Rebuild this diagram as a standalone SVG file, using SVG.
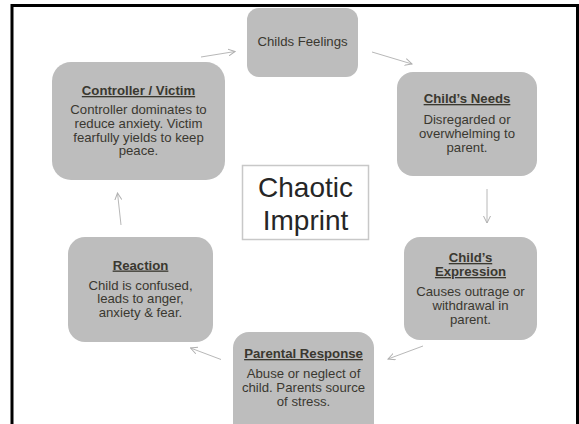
<svg xmlns="http://www.w3.org/2000/svg" width="579" height="424" viewBox="0 0 579 424">
<defs>
<style>
.node rect{fill:#bdbdbd;}
.t{font-family:"Liberation Sans",Arial,sans-serif;font-size:13.2px;fill:#3a3830;text-anchor:middle;}
.h{font-weight:bold;text-decoration:underline;}
.conn line{stroke:#b8b8b8;stroke-width:1;fill:none;marker-end:url(#ah);}
</style>
<marker id="ah" viewBox="0 0 8 8" refX="7" refY="4" markerWidth="8" markerHeight="8" markerUnits="userSpaceOnUse" orient="auto">
<path d="M0,0.5 L7,4 L0,7.5" fill="none" stroke="#b0b0b0" stroke-width="1"/>
</marker>
</defs>
<rect width="579" height="424" fill="#ffffff"/>
<path d="M12,424 V5.5 H577.5 V424" fill="none" stroke="#000" stroke-width="3"/>

<g class="conn" id="connectors">
<line x1="201" y1="57" x2="235" y2="51.5"/>
<line x1="372" y1="52" x2="412" y2="64"/>
<line x1="487" y1="189" x2="487" y2="223"/>
<line x1="423" y1="346" x2="388" y2="359"/>
<line x1="221" y1="359.5" x2="190.5" y2="348"/>
<line x1="121" y1="225" x2="117.5" y2="193"/>
</g>

<g class="node" id="childs-feelings">
<rect x="247" y="8" width="111" height="69" rx="12"/>
<text class="t" x="302.5" y="46">Childs Feelings</text>
</g>

<g class="node" id="childs-needs">
<rect x="397" y="72" width="140" height="104" rx="16"/>
<text class="t h" x="467" y="103">Child’s Needs</text>
<text class="t" x="467" y="124">Disregarded or</text>
<text class="t" x="467" y="137.8">overwhelming to</text>
<text class="t" x="467" y="151.6">parent.</text>
</g>

<g class="node" id="childs-expression">
<rect x="404" y="237" width="133" height="103" rx="16"/>
<text class="t h" x="470.5" y="262">Child’s</text>
<text class="t h" x="470.5" y="276">Expression</text>
<text class="t" x="470.5" y="296">Causes outrage or</text>
<text class="t" x="470.5" y="309.8">withdrawal in</text>
<text class="t" x="470.5" y="323.6">parent.</text>
</g>

<g class="node" id="parental-response">
<rect x="233" y="332" width="141" height="110" rx="16"/>
<text class="t h" x="303.5" y="358">Parental Response</text>
<text class="t" x="303.5" y="378">Abuse or neglect of</text>
<text class="t" x="303.5" y="391.8">child. Parents source</text>
<text class="t" x="303.5" y="405.6">of stress.</text>
</g>

<g class="node" id="reaction">
<rect x="68" y="237" width="145" height="105" rx="17"/>
<text class="t h" x="140.5" y="269.5">Reaction</text>
<text class="t" x="140.5" y="289.5">Child is confused,</text>
<text class="t" x="140.5" y="303.3">leads to anger,</text>
<text class="t" x="140.5" y="317.1">anxiety &amp; fear.</text>
</g>

<g class="node" id="controller-victim">
<rect x="52" y="62" width="173" height="118" rx="19"/>
<text class="t h" x="138.5" y="95">Controller / Victim</text>
<text class="t" x="138.5" y="114">Controller dominates to</text>
<text class="t" x="138.5" y="127.8">reduce anxiety. Victim</text>
<text class="t" x="138.5" y="141.6">fearfully yields to keep</text>
<text class="t" x="138.5" y="155.4">peace.</text>
</g>

<g id="center">
<rect x="242.5" y="165.5" width="126" height="74" fill="#ffffff" stroke="#c8c8c8" stroke-width="1.5"/>
<text x="305.5" y="197" font-family="Liberation Sans, Arial, sans-serif" font-size="28" fill="#262626" text-anchor="middle">Chaotic</text>
<text x="305.5" y="230" font-family="Liberation Sans, Arial, sans-serif" font-size="28" fill="#262626" text-anchor="middle">Imprint</text>
</g>
</svg>
